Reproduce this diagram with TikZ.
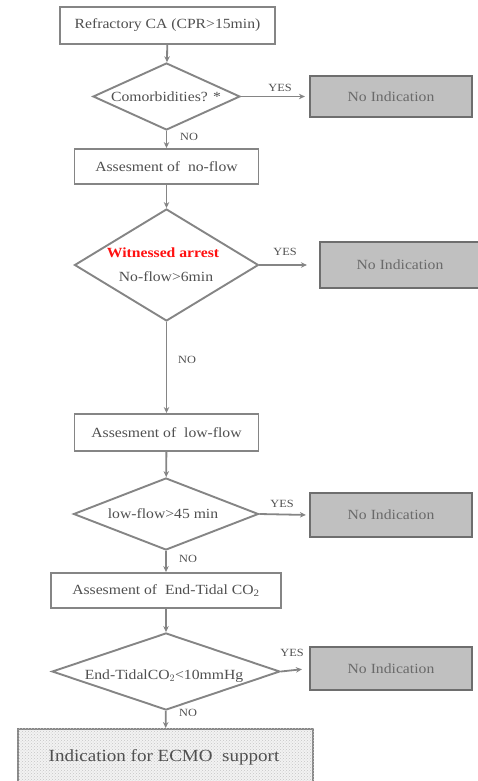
\documentclass[tikz,border=0pt]{standalone}
\usepackage{fontspec}
\setmainfont[FakeStretch=1.12]{Liberation Serif}
\usetikzlibrary{arrows.meta,shapes.geometric,patterns}
\definecolor{linegray}{HTML}{858585}
\definecolor{boxgray}{HTML}{C0C0C0}
\definecolor{edgegray}{HTML}{6E6E6E}
\definecolor{txtgray}{HTML}{505050}
\definecolor{nitxt}{HTML}{6A6A6A}
\definecolor{redtxt}{HTML}{FF1010}
\begin{document}
\begin{tikzpicture}[x=1pt,y=-1pt,
  stepbox/.style={draw=linegray,line width=1.9pt,fill=white,rectangle,inner sep=0pt,
    text=txtgray,font=\fontsize{14}{16}\selectfont},
  decbox/.style={draw=linegray,line width=1.9pt,fill=white,diamond,inner sep=0pt},
  dtext/.style={text=txtgray,font=\fontsize{14}{16}\selectfont,inner sep=0pt,align=center},
  nobox/.style={draw=edgegray,line width=2.2pt,fill=boxgray,rectangle,inner sep=0pt,
    minimum width=162pt,text=nitxt,font=\fontsize{14}{16}\selectfont},
  lbl/.style={text=txtgray,font=\fontsize{11}{12}\selectfont,inner sep=0pt},
  conn/.style={draw=linegray,line width=1.8pt,-{Stealth[length=6pt,width=5.5pt]}},
]
\useasboundingbox (0,0) rectangle (477,781);
% column
\node[stepbox,minimum width=215pt,minimum height=37pt] (b1) at (167.5,25.5) {Refractory CA (CPR>15min)};
\node[decbox,minimum width=147pt,minimum height=67pt] (d1) at (166.5,96.5) {};
\node[dtext] (t1) at (166,96.5) {Comorbidities? *};
\node[stepbox,minimum width=184pt,minimum height=35pt] (b2) at (166.5,166.5) {Assesment of \ no-flow};
\node[decbox,minimum width=184pt,minimum height=112pt] (d2) at (166.5,265) {};
\node[dtext,text=redtxt] (t2a) at (163,253) {\bfseries Witnessed arrest};
\node[dtext] (t2b) at (166,277) {No-flow>6min};
\node[stepbox,minimum width=184pt,minimum height=37pt] (b3) at (166.5,432.5) {Assesment of \ low-flow};
\node[decbox,minimum width=185pt,minimum height=72pt] (d3) at (166,514) {};
\node[dtext] (t3) at (163,514) {low-flow>45 min};
\node[stepbox,minimum width=230pt,minimum height=35pt] (b4) at (166,590.5) {Assesment of \ End-Tidal CO\textsubscript{2}};
\node[decbox,minimum width=228pt,minimum height=77pt] (d4) at (166,671.5) {};
\node[dtext] (t4) at (164,676) {End-TidalCO$_{2}$<10mmHg};
\node[draw=linegray,line width=1.9pt,fill=gray!10,rectangle,inner sep=0pt,
  minimum width=295pt,minimum height=53pt] (fin) at (165.5,755.5) {};
\fill[pattern=crosshatch dots,pattern color=gray!45] (fin.south west) rectangle (fin.north east);
\node[text=txtgray,font=\rmfamily\fontsize{17}{19}\selectfont,inner sep=0pt] (fint) at (164,757) {Indication for ECMO \ support};
% no indication boxes
\node[nobox,minimum height=41pt] (n1) at (391,96.5) {No Indication};
\node[nobox,minimum height=46pt,minimum width=160pt] (n2) at (400,265) {No Indication};
\node[nobox,minimum height=44pt] (n3) at (391,515) {No Indication};
\node[nobox,minimum height=43pt] (n4) at (391,668.5) {No Indication};
% connectors
\draw[conn] (b1) -- (d1);
\draw[conn] (d1) -- (b2);
\draw[conn] (b2) -- (d2);
\draw[conn] (d2) -- (b3);
\draw[conn] (b3) -- (d3);
\draw[conn] (d3) -- (b4);
\draw[conn] (b4) -- (d4);
\draw[conn] (d4) -- (fin);
\draw[conn,shorten >=4pt] (d1.east) -- (n1.west);
\draw[conn,shorten >=12pt] (d2.east) -- (n2.west);
\draw[conn,shorten >=3pt] (d3.east) -- (n3.west);
\draw[conn,shorten >=7pt] (d4.east) -- (n4.west);
% labels
\node[lbl] (y1) at (280,88) {YES};
\node[lbl] (y2) at (285,252) {YES};
\node[lbl] (y3) at (282,504) {YES};
\node[lbl] (y4) at (292,653) {YES};
\node[lbl] (o1) at (189,137) {NO};
\node[lbl] (o2) at (187,360) {NO};
\node[lbl] (o3) at (188,559) {NO};
\node[lbl] (o4) at (188,713) {NO};
\end{tikzpicture}
\end{document}
